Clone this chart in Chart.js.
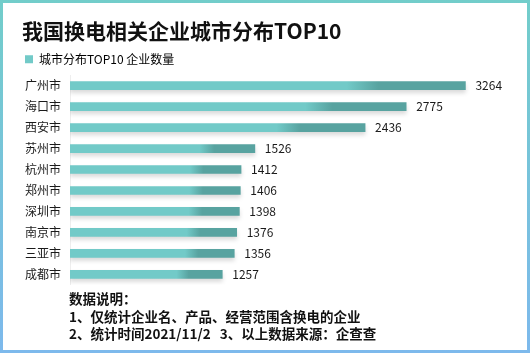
<!DOCTYPE html>
<html>
<head>
<meta charset="utf-8">
<script src="https://cdn.jsdelivr.net/npm/chart.js@4/dist/chart.umd.min.js"></script>
<style>
	html, body { margin: 0; padding: 0; }
	#frame {
		position: relative; width: 530px; height: 353px;
		background: linear-gradient(to bottom, #72cdca, #7db9ec);
	}
	#inner {
		position: absolute; left: 3px; top: 3px; right: 3px; bottom: 3px;
		background: #fff;
	}
	#wrap { position: absolute; left: -3px; top: -3px; width: 530px; height: 301px; }
	#notes {
		position: absolute; left: 66px; top: 287px;
		font: bold 13.5px "Noto Sans CJK SC", sans-serif; color: #111; line-height: 17.5px;
		white-space: pre;
	}
</style>
</head>
<body>
<div id="frame"><div id="inner">
	<div id="wrap"><canvas id="chart"></canvas></div>
	<div id="notes">数据说明：
1、仅统计企业名、产品、经营范围含换电的企业
2、统计时间2021/11/2   3、以上数据来源：企查查</div>
</div></div>
<script>
var cities = ['广州市','海口市','西安市','苏州市','杭州市','郑州市','深圳市','南京市','三亚市','成都市'];
var counts = [3264, 2775, 2436, 1526, 1412, 1406, 1398, 1376, 1356, 1257];
var seriesName = '城市分布TOP10 企业数量';

var light = '#72cac8', dark = '#58a3a0';
var font = '"Noto Sans CJK SC", sans-serif';

function barFill(c) {
	var chart = c.chart, x = chart.scales.x;
	if (!x || c.dataIndex === undefined) return light;
	var x0 = x.getPixelForValue(0), x1 = x.getPixelForValue(counts[c.dataIndex]);
	var g = chart.ctx.createLinearGradient(x0, 0, x1, 0);
	g.addColorStop(0, light);
	g.addColorStop(0.7, light);
	g.addColorStop(0.78, dark);
	g.addColorStop(1, dark);
	return g;
}

// soft shadow under the bars
var shadow = {
	id: 'shadow',
	beforeDatasetDraw(chart) {
		var ctx = chart.ctx;
		ctx.save();
		ctx.shadowColor = 'rgba(0,0,0,0.15)';
		ctx.shadowBlur = 4;
		ctx.shadowOffsetY = 3;
	},
	afterDatasetDraw(chart) { chart.ctx.restore(); }
};

// value at the end of each bar
var valueLabels = {
	id: 'valueLabels',
	afterDatasetsDraw(chart) {
		var ctx = chart.ctx;
		var meta = chart.getDatasetMeta(0);
		ctx.save();
		ctx.font = '12px ' + font;
		ctx.fillStyle = '#1a1a1a';
		ctx.textAlign = 'left';
		ctx.textBaseline = 'middle';
		meta.data.forEach((bar, i) => {
			ctx.fillText(counts[i], bar.x + 10, bar.y);
		});
		ctx.restore();
	}
};

new Chart(document.getElementById('chart'), {
	type: 'bar',
	data: {
		labels: cities,
		datasets: [{
			label: seriesName,
			data: counts,
			backgroundColor: barFill,
			barThickness: 8
		}]
	},
	plugins: [shadow, valueLabels],
	options: {
		indexAxis: 'y',
		responsive: true,
		maintainAspectRatio: false,
		animation: false,
		layout: { padding: { left: 22, right: 36, top: 18, bottom: 8 } },
		plugins: {
			title: {
				display: true,
				text: '我国换电相关企业城市分布TOP10',
				align: 'start',
				color: '#111',
				font: { family: font, size: 21, weight: 'bold' },
				padding: { top: 0, bottom: 7 }
			},
			legend: {
				align: 'start',
				labels: {
					boxWidth: 8, boxHeight: 8,
					color: '#222',
					font: { family: font, size: 12 },
					padding: 3,
					generateLabels: () => [{ text: seriesName, fillStyle: light, strokeStyle: light, lineWidth: 0 }]
				}
			},
			tooltip: { enabled: false }
		},
		scales: {
			x: { display: false, min: 0, max: 3500 },
			y: {
				afterFit: (s) => { s.width = 48; },
				grid: { display: false, drawTicks: false },
				border: { display: true, color: '#eeeeee' },
				ticks: { padding: 9, color: '#1a1a1a', font: { family: font, size: 12 } }
			}
		}
	}
});
</script>
</body>
</html>
